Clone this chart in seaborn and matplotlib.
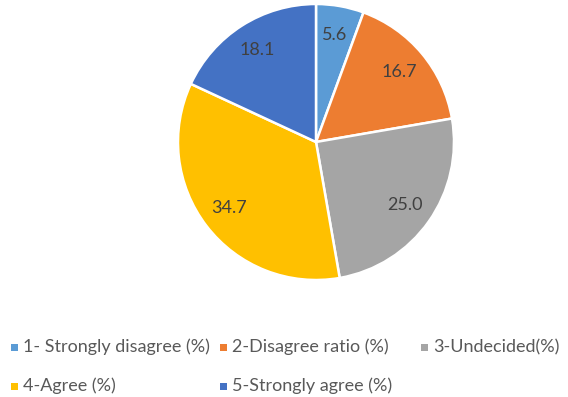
import matplotlib
matplotlib.use("Agg")
import matplotlib.pyplot as plt
from matplotlib.patches import Rectangle
import seaborn as sns

categories = ["1- Strongly disagree (%)", "2-Disagree ratio (%)", "3-Undecided(%)",
              "4-Agree (%)", "5-Strongly agree (%)"]
values = [5.6, 16.7, 25.0, 34.7, 18.1]
colors = ["#5B9BD5", "#ED7D31", "#A5A5A5", "#FFC000", "#4472C4"]

sns.set_theme(style="white")
plt.rcParams["font.family"] = ["Lato", "DejaVu Sans"]
palette = sns.color_palette(colors)

W, H = 568, 397
fig = plt.figure(figsize=(W / 100, H / 100), dpi=100)
fig.patch.set_facecolor("white")

# pie axes: centre (316, 142) px, radius 138 px
cx, cy, r = 316, 142, 138
ax = fig.add_axes([(cx - r) / W, (H - cy - r) / H, 2 * r / W, 2 * r / H])
total = sum(values)
wedges, texts, autotexts = ax.pie(
    values, colors=palette, startangle=90, counterclock=False,
    autopct=lambda p: f"{p * total / 100:.1f}", pctdistance=0.79,
    wedgeprops=dict(edgecolor="white", linewidth=1.8),
    textprops=dict(color="#404040", fontsize=13),
)
ax.set_xlim(-1, 1)
ax.set_ylim(-1, 1)
ax.set_aspect("equal")
ax.axis("off")

# legend laid out in two rows
positions = [(11, 347), (220, 347), (421, 347), (11, 386), (220, 386)]
for (mx, my), label, col in zip(positions, categories, palette):
    fig.patches.append(Rectangle((mx / W, (H - my - 3.5) / H), 7 / W, 7 / H,
                                 transform=fig.transFigure, facecolor=col,
                                 edgecolor="none"))
    fig.text((mx + 12) / W, (H - my) / H, label, fontsize=13, color="#595959",
             ha="left", va="center")

fig.savefig("out.png", dpi=100, facecolor="white")
